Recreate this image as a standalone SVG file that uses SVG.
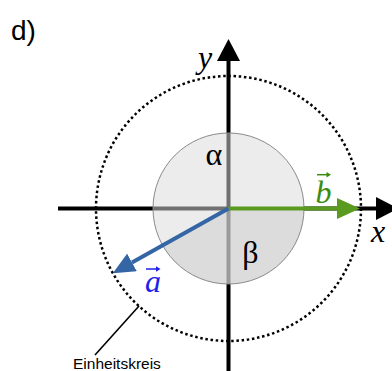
<svg xmlns="http://www.w3.org/2000/svg" width="392" height="371" viewBox="0 0 392 371">
<defs>
<style>
.serif{font-family:"Liberation Serif","Times New Roman",serif;font-size:32px}
.it{font-style:italic}
.sans{font-family:"Liberation Sans",Arial,sans-serif}
.axis{stroke:#000;stroke-width:4;fill:none}
.gray{stroke:#707070;stroke-width:4}
</style>
<marker id="ahBlack" markerUnits="userSpaceOnUse" markerWidth="22" markerHeight="23" refX="0" refY="11.5" orient="auto"><path d="M0,0 L22,11.5 L0,23 z" fill="#000"/></marker>
<marker id="ahGreen" markerUnits="userSpaceOnUse" markerWidth="23" markerHeight="21" refX="0" refY="10.5" orient="auto"><path d="M0,0 L23,10.5 L0,21 z" fill="#5a9a1e"/></marker>
<marker id="ahBlue" markerUnits="userSpaceOnUse" markerWidth="22" markerHeight="20" refX="0" refY="10" orient="auto"><path d="M0,0 L22,10 L0,20 z" fill="#3465a4"/></marker>
</defs>
<rect width="392" height="371" fill="#fff"/>
<g id="label-d"><text class="sans" x="11" y="40" font-size="28">d)</text></g>
<g id="connectors">
<line class="axis" x1="58" y1="208.5" x2="376" y2="208.5" marker-end="url(#ahBlack)"/>
<line class="axis" x1="228.5" y1="371" x2="228.5" y2="61" marker-end="url(#ahBlack)"/>
</g>
<g id="angle-circle">
<circle cx="228.5" cy="208.5" r="75.5" fill="#ececec"/>
<path d="M228.5,208.5 L304,208.5 A75.5,75.5 0 0 1 162.6,245.3 Z" fill="#dcdcdc"/>
<line class="gray" x1="228.5" y1="133" x2="228.5" y2="208.5"/>
<line class="gray" x1="153" y1="208.5" x2="228.5" y2="208.5"/>
<line x1="228.5" y1="208.5" x2="228.5" y2="284" stroke="#9a9a9a" stroke-width="4"/>
<circle cx="228.5" cy="208.5" r="75.5" fill="none" stroke="#8a8a8a" stroke-width="1"/>
</g>
<g id="unit-circle">
<circle cx="228.5" cy="208.5" r="132.5" fill="none" stroke="#000" stroke-width="2.5" stroke-dasharray="2.5,2.7"/>
<line x1="95" y1="355" x2="139" y2="306" stroke="#000" stroke-width="1.6"/>
<text class="sans" x="73" y="369" font-size="15.5">Einheitskreis</text>
</g>
<g id="vectors">
<line x1="228.5" y1="208.5" x2="337" y2="208.5" stroke="#5a9a1e" stroke-width="4" marker-end="url(#ahGreen)"/>
<line x1="228.5" y1="208.5" x2="132" y2="262.4" stroke="#3465a4" stroke-width="4" marker-end="url(#ahBlue)"/>
</g>
<g id="labels">
<text class="serif it" x="198" y="68">y</text>
<text class="serif it" x="371" y="242">x</text>
<text class="serif" x="214" y="165" text-anchor="middle" font-size="34">α</text>
<text class="serif" x="250.5" y="263" text-anchor="middle">β</text>
<g id="label-b" fill="#3c8c14">
<text class="serif it" x="323.5" y="203" text-anchor="middle">b</text>
<path d="M317,174.7 H328" stroke="#3c8c14" stroke-width="1.5"/>
<path d="M331,174.7 L326.5,172 L326.5,177.4 z"/>
</g>
<g id="label-a" fill="#1f1fe6">
<text class="serif it" x="153" y="292" text-anchor="middle">a</text>
<path d="M146,269 H157" stroke="#1f1fe6" stroke-width="1.5"/>
<path d="M160.5,269 L156,266.3 L156,271.7 z"/>
</g>
</g>
</svg>
